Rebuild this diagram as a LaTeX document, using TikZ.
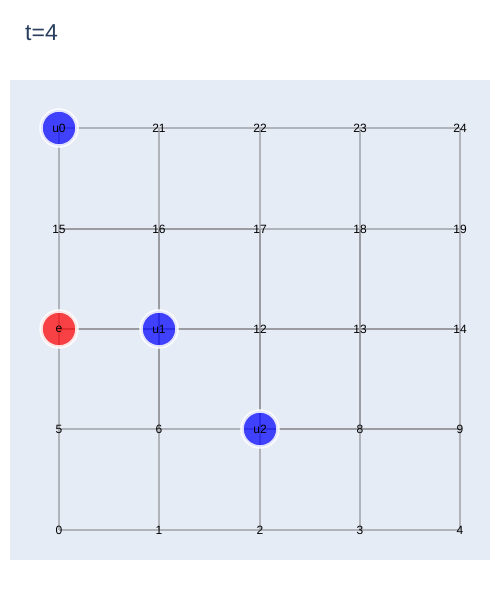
\documentclass[tikz,border=0pt]{standalone}
\usepackage{fontspec}
\setmainfont{Liberation Sans}
\definecolor{plotbg}{HTML}{E5ECF6}
\definecolor{titlec}{HTML}{2A3F5F}
\definecolor{darkedge}{HTML}{9A9CA1}
\definecolor{lightedge}{HTML}{B0B3B9}
\begin{document}
\begin{tikzpicture}[x=1pt,y=-1pt,
  lbl/.style={inner sep=0pt,font=\fontsize{12}{12}\selectfont,text=black},
  dk/.style={draw=darkedge,line width=1.3pt},
  lt/.style={draw=lightedge,line width=1.7pt},
  agent/.style={circle,minimum size=36pt,inner sep=0pt,fill=blue!100,fill opacity=0.72,draw=white,draw opacity=0.85,line width=3.5pt,text opacity=1,text=black,font=\fontsize{12}{12}\selectfont},
  evader/.style={agent,fill=red}]
\useasboundingbox (0,0) rectangle (500,600);
\fill[white] (0,0) rectangle (500,600);
\fill[plotbg] (10,80) rectangle (490,560);
\node[anchor=base west,inner sep=0pt,text=titlec,font=\fontsize{23}{23}\selectfont] (title) at (25,40) {t=4};
% coordinates
\foreach \c/\x in {0/59,1/159,2/260,3/360,4/460}{
  \foreach \r/\y in {0/530,1/429,2/329,3/229,4/128}{
    \pgfmathtruncatemacro{\id}{\r*5+\c}
    \coordinate (v\id) at (\x,\y);
  }
}
% horizontal edges
\draw[lt] (v20)--(v21)--(v22)--(v23)--(v24);
\draw[dk] (v15)--(v16)--(v17);
\draw[lt] (v17)--(v18)--(v19);
\draw[dk] (v10)--(v11)--(v12)--(v13)--(v14);
\draw[lt] (v5)--(v6)--(v7);
\draw[dk] (v7)--(v8)--(v9);
\draw[lt] (v0)--(v1)--(v2)--(v3)--(v4);
% vertical edges
\draw[lt] (v0)--(v5)--(v10)--(v15)--(v20);
\draw[lt] (v1)--(v6);
\draw[dk] (v6)--(v11)--(v16);
\draw[lt] (v16)--(v21);
\draw[lt] (v2)--(v7);
\draw[dk] (v7)--(v12)--(v17);
\draw[lt] (v17)--(v22);
\draw[lt] (v3)--(v8);
\draw[dk] (v8)--(v13)--(v18);
\draw[lt] (v18)--(v23);
\draw[lt] (v4)--(v9)--(v14)--(v19)--(v24);
% agents
\node[agent] (a0) at (v20) {u0};
\node[agent] (a1) at (v11) {u1};
\node[agent] (a2) at (v7) {u2};
\node[evader] (ev) at (v10) {e};
% labels
\foreach \i in {0,1,2,3,4,5,6,8,9,12,13,14,15,16,17,18,19,21,22,23,24}{
  \node[lbl] (n\i) at (v\i) {\i};
}
\end{tikzpicture}
\end{document}
